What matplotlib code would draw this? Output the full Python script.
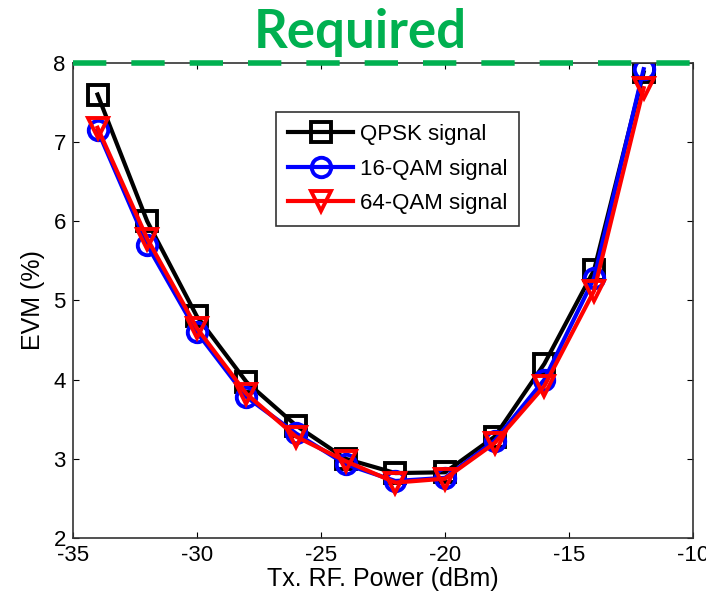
import matplotlib
matplotlib.use("Agg")
import matplotlib.pyplot as plt
import numpy as np

power = [-34, -32, -30, -28, -26, -24, -22, -20, -18, -16, -14, -12]
evm_qpsk = [7.60, 6.00, 4.80, 3.97, 3.42, 3.00, 2.82, 2.83, 3.28, 4.20, 5.38, 7.88]
evm_16qam = [7.15, 5.70, 4.60, 3.78, 3.32, 2.93, 2.72, 2.76, 3.23, 4.00, 5.28, 7.92]
evm_64qam = [7.18, 5.78, 4.65, 3.82, 3.28, 2.97, 2.70, 2.75, 3.20, 3.92, 5.12, 7.68]
required_evm = 8

series = [
    ("QPSK signal", evm_qpsk, "black", "s"),
    ("16-QAM signal", evm_16qam, "blue", "o"),
    ("64-QAM signal", evm_64qam, "red", "v"),
]

plt.rcParams["font.family"] = ["Liberation Sans", "DejaVu Sans"]
plt.rcParams["axes.unicode_minus"] = False

fig = plt.figure(figsize=(7.06, 6.10), dpi=100)
ax = fig.add_axes([0.103, 0.118, 0.879, 0.779])

for label, vals, color, marker in series:
    ax.plot(power, vals, color=color, marker=marker, markersize=14,
            markerfacecolor="none", markeredgewidth=2.8, linewidth=3, label=label)

# required EVM limit
ax.axhline(required_evm, color="#00B050", linewidth=4, linestyle=(0, (6, 4.5)),
           clip_on=False, zorder=5)

ax.set_xlim(-35, -10)
ax.set_ylim(2, 8)
ax.set_xticks([-35, -30, -25, -20, -15, -10])
ax.set_yticks([2, 3, 4, 5, 6, 7, 8])
ax.tick_params(direction="in", length=4, labelsize=16, top=True, right=True, pad=5)
for s in ax.spines.values():
    s.set_color("#333333")
    s.set_linewidth(1.2)

ax.set_xlabel("Tx. RF. Power (dBm)", fontsize=18, labelpad=1)
ax.set_ylabel("EVM (%)", fontsize=18, labelpad=6)

leg = ax.legend(loc="upper left", bbox_to_anchor=(0.31, 0.92), fontsize=16,
                fancybox=False, edgecolor="black", handlelength=2.9,
                borderpad=0.55, labelspacing=0.6, handletextpad=0.3)
leg.get_frame().set_linewidth(1.2)

fig.text(0.51, 0.946, "Required", color="#00B050", fontsize=38,
         fontweight="bold", family=["Lato", "DejaVu Sans"], ha="center", va="center")

fig.savefig("out.png", dpi=100)
